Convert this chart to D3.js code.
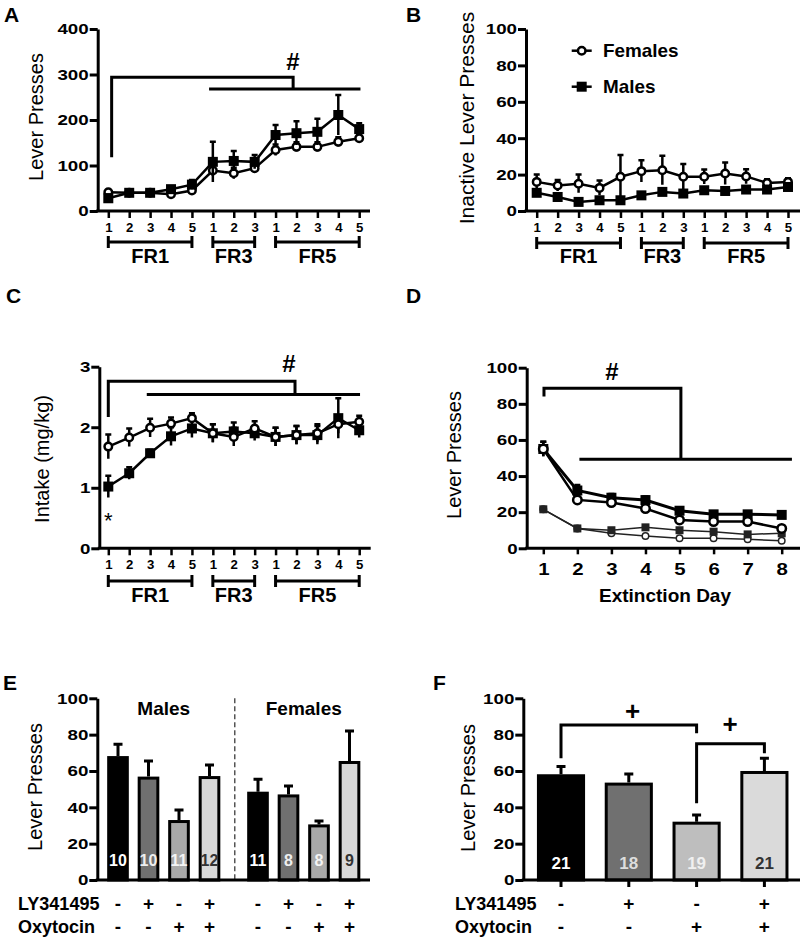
<!DOCTYPE html>
<html><head><meta charset="utf-8">
<script src="https://cdn.jsdelivr.net/npm/d3@7"></script>
<style>
body{margin:0;background:#fff}
svg{display:block}
</style></head><body>
<svg id="c" width="800" height="939"></svg>
<script>
// ---------------- DATA ----------------
const sessions = ["1","2","3","4","5","1","2","3","1","2","3","4","5"];
const phaseNames = ["FR1","FR3","FR5"];
const phaseFrom = [0,5,8];
const phaseTo = [4,7,12];

const activeFemales    = [41,40,40,37,45,89,83,94,134,141,141,152,160];
const activeFemalesErr = [5,4,4,5,8,12,12,10,12,10,10,10,8];
const activeMales      = [28,40,40,48,58,108,110,108,167,171,174,211,180];
const activeMalesErr   = [8,5,5,6,10,44,22,15,22,26,29,44,13];

const inactiveFemales    = [16,14,15,12.7,18.8,21.9,22.4,18.8,18.8,20.6,19,15.4,16];
const inactiveFemalesErr = [4,3,5,4,12,6,8,7,4,6,4,2,2];
const inactiveMales      = [10,7.7,5,5.9,5.9,8.6,10.5,9.6,11.4,11,11.8,11.8,13.2];
const inactiveMalesErr   = [2,2,1,1,1,1,2,1,1,1,1,1,1];

const intakeFemales    = [1.68,1.83,1.99,2.06,2.15,1.90,1.84,1.98,1.84,1.87,1.90,2.05,2.09];
const intakeFemalesErr = [0.2,0.15,0.15,0.1,0.08,0.15,0.15,0.12,0.15,0.15,0.15,0.15,0.1];
const intakeMales      = [1.02,1.24,1.57,1.85,1.98,1.9,1.93,1.9,1.84,1.87,1.87,2.15,1.95];
const intakeMalesErr   = [0.18,0.1,0.06,0.15,0.15,0.15,0.15,0.12,0.15,0.15,0.15,0.33,0.12];

const extDays = [1,2,3,4,5,6,7,8];
const extMalesActive      = [55,32,28,26.7,20.8,18.8,18.8,18.5];
const extMalesActiveErr   = [4,3,2,2,1,1,1,1];
const extFemalesActive    = [55,26.8,25.3,22,15.7,14.8,14.8,11];
const extFemalesActiveErr = [4,2,2,2,1,1,1,1];
const extMalesInactive    = [21.6,11,10,11.6,10,9.2,7.7,8.3];
const extFemalesInactive  = [21.6,11,8.3,6.8,5.5,5.5,5,4.2];

const treatments = ["Vehicle","LY341495","Oxytocin","LY341495+Oxytocin"];
const lySigns  = ["-","+","-","+"];
const oxySigns = ["-","-","+","+"];
const sexGroups = ["Males","Females"];
const reinstMales      = [68.2,56.9,33,57.2];
const reinstMalesErr   = [6.5,8.6,5.5,6.1];
const reinstMalesN     = [10,10,11,12];
const reinstFemales    = [48.6,47.1,30.6,65.5];
const reinstFemalesErr = [6.8,4.6,1.9,16.5];
const reinstFemalesN   = [11,8,8,9];
const reinstAll        = [58.2,53.6,32.1,60];
const reinstAllErr     = [4.2,4.7,3.7,7];
const reinstAllN       = [21,18,19,21];

const ticksA = [0,100,200,300,400];
const ticks100 = [0,20,40,60,80,100];
const ticksC = [0,1,2,3];

// ---------------- HELPERS ----------------
const FONT = '"Liberation Sans", Arial, Helvetica, sans-serif';
const svg = d3.select("#c");

function txt(g, x, y, s, o = {}) {
  let tr = `translate(${x},${y})`;
  if (o.rot) tr += ` rotate(${o.rot})`;
  if (o.sx) tr += ` scale(${o.sx},1)`;
  return g.append("text").attr("transform", tr)
    .attr("font-family", FONT).attr("font-size", o.size || 16)
    .attr("font-weight", o.weight || "normal")
    .attr("text-anchor", o.anchor || "start")
    .attr("fill", o.fill || "#000").text(s);
}

function yAxis(g, y, x0, ticks, fmt) {
  const ax = g.append("g").attr("transform", `translate(${x0},0)`)
    .call(d3.axisLeft(y).tickValues(ticks).tickSize(8).tickSizeOuter(0).tickPadding(1)
      .tickFormat(fmt || d3.format("d")));
  ax.select(".domain").attr("stroke", "#000").attr("stroke-width", 3);
  ax.selectAll(".tick line").attr("stroke", "#000").attr("stroke-width", 3);
  ax.selectAll(".tick text").attr("font-size", 15).attr("font-weight", "bold")
    .attr("font-family", FONT).attr("fill", "#000")
    .attr("x", -9 / 1.25).attr("transform", "scale(1.25,1)");
  return ax;
}

function xBase(g, x0, x1, yb) {
  g.append("line").attr("x1", x0 - 1.5).attr("x2", x1).attr("y1", yb).attr("y2", yb)
    .attr("stroke", "#000").attr("stroke-width", 3);
}

function xTicks(g, x, yb, vals, fmt, size, ty, sx, tick) {
  const ax = g.append("g").attr("transform", `translate(0,${yb})`)
    .call(d3.axisBottom(x).tickValues(vals).tickFormat(fmt).tickSize(tick));
  ax.select(".domain").remove();
  ax.selectAll(".tick line").attr("stroke", "#000").attr("stroke-width", 2.5);
  ax.selectAll(".tick text").attr("font-size", size).attr("font-weight", "bold")
    .attr("font-family", FONT).attr("fill", "#000")
    .attr("y", ty).attr("dy", null).attr("transform", `scale(${sx},1)`);
}

function phaseBrackets(g, x, by, ly) {
  phaseNames.forEach((nm, i) => {
    const xa = x(phaseFrom[i]), xb = x(phaseTo[i]);
    g.append("path").attr("d", `M${xa},${by-6}V${by+6}M${xa},${by}H${xb}M${xb},${by-6}V${by+6}`)
      .attr("fill", "none").attr("stroke", "#000").attr("stroke-width", 3);
    txt(g, (xa + xb) / 2, ly, nm, {size: 20, weight: "bold", anchor: "middle"});
  });
}

function series(g, x, y, xs, vals, errs, shape, o = {}) {
  const sw = o.sw || 2.5, col = o.col || "#000";
  if (errs) {
    xs.forEach((xv, i) => {
      const cx = x(xv), y1 = y(vals[i] - errs[i]), y2 = y(vals[i] + errs[i]);
      g.append("path").attr("d", `M${cx},${y1}V${y2}M${cx-3},${y2}H${cx+3}`)
        .attr("stroke", col).attr("stroke-width", 2.5).attr("fill", "none");
    });
  }
  g.append("path").datum(xs.map((xv, i) => [xv, vals[i]]))
    .attr("d", d3.line().x(d => x(d[0])).y(d => y(d[1])))
    .attr("fill", "none").attr("stroke", col).attr("stroke-width", sw);
  const s = o.ms || 10;
  xs.forEach((xv, i) => {
    if (shape === "square") {
      g.append("rect").attr("x", x(xv) - s/2).attr("y", y(vals[i]) - s/2)
        .attr("width", s).attr("height", s).attr("fill", col);
    } else {
      g.append("circle").attr("cx", x(xv)).attr("cy", y(vals[i])).attr("r", s/2 - sw/2)
        .attr("fill", "#fff").attr("stroke", col).attr("stroke-width", sw);
    }
  });
}

// ---------------- PANEL A ----------------
{
  const g = svg.append("g");
  const y = d3.scaleLinear().domain([0, 400]).range([211, 29]);
  const x = d3.scaleLinear().domain([0, 12]).range([108.3, 359.2]);
  const idx = d3.range(sessions.length);
  txt(g, 4, 22, "A", {size: 21, weight: "bold"});
  txt(g, 43, 117, "Lever Presses", {size: 20, rot: -90, anchor: "middle"});
  g.append("path").attr("d",
    `M${x(0.16)},${y(118)}V${y(294)}H${x(8.84)}V${y(268)}M${x(4.82)},${y(268)}H${x(12.06)}`)
    .attr("fill", "none").attr("stroke", "#000").attr("stroke-width", 3);
  txt(g, 293, 70, "#", {size: 24, weight: "bold", anchor: "middle"});
  series(g, x, y, idx, activeFemales, activeFemalesErr, "circle");
  series(g, x, y, idx, activeMales, activeMalesErr, "square");
  xBase(g, 97.7, 370, 211);
  xTicks(g, x, 211, idx, i => sessions[i], 12, 21, 1.1, 7);
  yAxis(g, y, 97.7, ticksA);
  phaseBrackets(g, x, 242, 263);
}

// ---------------- PANEL B ----------------
{
  const g = svg.append("g");
  const y = d3.scaleLinear().domain([0, 100]).range([211, 29]);
  const x = d3.scaleLinear().domain([0, 12]).range([536.7, 788]);
  const idx = d3.range(sessions.length);
  txt(g, 406, 22, "B", {size: 21, weight: "bold"});
  txt(g, 474, 118, "Inactive Lever Presses", {size: 21, rot: -90, anchor: "middle"});
  series(g, x, y, idx, inactiveFemales, inactiveFemalesErr, "circle");
  series(g, x, y, idx, inactiveMales, inactiveMalesErr, "square");
  xBase(g, 526, 800, 211);
  xTicks(g, x, 211, idx, i => sessions[i], 12, 21, 1.1, 7);
  yAxis(g, y, 526, ticks100);
  phaseBrackets(g, x, 243, 263);
  // legend
  const lg = g.append("g");
  const lx = d3.scaleLinear().domain([0, 1]).range([571.7, 591.7]);
  [["Females", "circle", 50.7], ["Males", "square", 86.7]].forEach(([nm, sh, ly]) => {
    lg.append("line").attr("x1", lx(0)).attr("x2", lx(1)).attr("y1", ly).attr("y2", ly)
      .attr("stroke", "#000").attr("stroke-width", 2.5);
    if (sh === "circle") lg.append("circle").attr("cx", lx(0.5)).attr("cy", ly).attr("r", 3.75)
      .attr("fill", "#fff").attr("stroke", "#000").attr("stroke-width", 2.5);
    else lg.append("rect").attr("x", lx(0.5) - 5).attr("y", ly - 5).attr("width", 10).attr("height", 10);
    txt(lg, 603, ly + 6.5, nm, {size: 18, weight: "bold", sx: 1.05});
  });
}

// ---------------- PANEL C ----------------
{
  const g = svg.append("g");
  const y = d3.scaleLinear().domain([0, 3]).range([548.3, 366.7]);
  const x = d3.scaleLinear().domain([0, 12]).range([108.3, 359.2]);
  const idx = d3.range(sessions.length);
  txt(g, 6, 303, "C", {size: 21, weight: "bold"});
  txt(g, 49, 459, "Intake (mg/kg)", {size: 20, rot: -90, anchor: "middle"});
  g.append("path").attr("d",
    `M${x(0)},${y(2.17)}V${y(2.76)}H${x(8.93)}V${y(2.54)}M${x(1.84)},${y(2.54)}H${x(12.04)}`)
    .attr("fill", "none").attr("stroke", "#000").attr("stroke-width", 3);
  txt(g, 289, 372, "#", {size: 24, weight: "bold", anchor: "middle"});
  series(g, x, y, idx, intakeMales, intakeMalesErr, "square");
  series(g, x, y, idx, intakeFemales, intakeFemalesErr, "circle");
  txt(g, x(0), 528, "*", {size: 22, anchor: "middle"});
  xBase(g, 99.3, 370.7, 548.3);
  xTicks(g, x, 548.3, idx, i => sessions[i], 12, 21, 1.1, 7);
  yAxis(g, y, 99.3, ticksC);
  phaseBrackets(g, x, 581, 602);
}

// ---------------- PANEL D ----------------
{
  const g = svg.append("g");
  const y = d3.scaleLinear().domain([0, 100]).range([548.3, 367.7]);
  const x = d3.scaleLinear().domain([1, 8]).range([543.3, 781.7]);
  txt(g, 406, 303, "D", {size: 21, weight: "bold"});
  txt(g, 461, 455, "Lever Presses", {size: 20, rot: -90, anchor: "middle"});
  g.append("path").attr("d",
    `M${x(1.02)},${y(84)}V${y(88.6)}H${x(5.04)}V${y(49.3)}M${x(2.06)},${y(49.3)}H${x(8.3)}`)
    .attr("fill", "none").attr("stroke", "#000").attr("stroke-width", 3);
  txt(g, 612, 380, "#", {size: 24, weight: "bold", anchor: "middle"});
  series(g, x, y, extDays, extFemalesInactive, null, "circle", {sw: 1.5, ms: 8, col: "#222"});
  series(g, x, y, extDays, extMalesInactive, null, "square", {sw: 1.5, ms: 8, col: "#222"});
  series(g, x, y, extDays, extMalesActive, extMalesActiveErr, "square", {sw: 3, ms: 10});
  series(g, x, y, extDays, extFemalesActive, extFemalesActiveErr, "circle", {sw: 2.5, ms: 11});
  xBase(g, 526.7, 800, 548.3);
  xTicks(g, x, 548.3, extDays, d3.format("d"), 17, 27, 1.2, 6);
  yAxis(g, y, 526.7, ticks100);
  txt(g, 665, 602, "Extinction Day", {size: 19, weight: "bold", anchor: "middle"});
}

// ---------------- BAR HELPERS ----------------
const barFillE = ["#000000", "#707070", "#a8a8a8", "#d8d8d8"];
const barFillF = ["#000000", "#707070", "#bebebe", "#dadada"];
const nColE = ["#ffffff", "#eeeeee", "#f4f4f4", "#333333"];
const nColF = ["#ffffff", "#dddddd", "#f0f0f0", "#333333"];

function bars(g, xb, y, vals, errs, ns, fills, ncols, nsize, ny) {
  const bw = xb.bandwidth();
  treatments.forEach((t, i) => {
    const x0 = xb(t), cx = x0 + bw / 2;
    g.append("path").attr("d", `M${cx},${y(vals[i])}V${y(vals[i] + errs[i])}M${cx-4.5},${y(vals[i] + errs[i])}H${cx+4.5}`)
      .attr("stroke", "#000").attr("stroke-width", 3).attr("fill", "none");
    g.append("rect").attr("x", x0 + 1.5).attr("y", y(vals[i]) + 1.5)
      .attr("width", bw - 3).attr("height", y(0) - y(vals[i]) - 1.5)
      .attr("fill", fills[i]).attr("stroke", "#000").attr("stroke-width", 3);
    txt(g, cx, ny, String(ns[i]), {size: nsize, weight: "bold", anchor: "middle", fill: ncols[i]});
  });
}

function signRows(g, centers, x0, yLy, yOx) {
  txt(g, x0, yLy, "LY341495", {size: 18, weight: "bold"});
  txt(g, x0, yOx, "Oxytocin", {size: 18, weight: "bold"});
  centers.forEach((c, i) => {
    txt(g, c, yLy, lySigns[i % 4], {size: 19, weight: "bold", anchor: "middle"});
    txt(g, c, yOx, oxySigns[i % 4], {size: 19, weight: "bold", anchor: "middle"});
  });
}

// ---------------- PANEL E ----------------
{
  const g = svg.append("g");
  const y = d3.scaleLinear().domain([0, 100]).range([880, 698.3]);
  const gx = d3.scaleBand().domain(sexGroups).range([102.75, 364.75]).paddingInner(18 / 140).paddingOuter(0);
  const inner = d3.scaleBand().domain(treatments).range([0, gx.bandwidth()]).paddingInner(0.29).paddingOuter(0.145);
  txt(g, 3, 690, "E", {size: 21, weight: "bold"});
  txt(g, 42, 787, "Lever Presses", {size: 20, rot: -90, anchor: "middle"});
  const divX = (gx("Males") + gx.bandwidth() + gx("Females")) / 2 + 1;
  g.append("line").attr("x1", divX).attr("x2", divX).attr("y1", y(100)).attr("y2", y(0))
    .attr("stroke", "#555").attr("stroke-width", 1.5).attr("stroke-dasharray", "5,3");
  const centers = [];
  [[reinstMales, reinstMalesErr, reinstMalesN], [reinstFemales, reinstFemalesErr, reinstFemalesN]].forEach((d, gi) => {
    const sg = g.append("g").attr("transform", `translate(${gx(sexGroups[gi])},0)`);
    bars(sg, inner, y, d[0], d[1], d[2], barFillE, nColE, 16, 866);
    treatments.forEach(t => centers.push(gx(sexGroups[gi]) + inner(t) + inner.bandwidth() / 2));
    txt(g, gx(sexGroups[gi]) + gx.bandwidth() / 2, 715, sexGroups[gi], {size: 19, weight: "bold", anchor: "middle"});
  });
  xBase(g, 97.3, 370, 880);
  yAxis(g, y, 97.3, ticks100);
  signRows(g, centers, 18, 910, 933);
}

// ---------------- PANEL F ----------------
{
  const g = svg.append("g");
  const y = d3.scaleLinear().domain([0, 100]).range([880, 698.3]);
  const xb = d3.scaleBand().domain(treatments).range([527.1, 798.3]).paddingInner(0.29).paddingOuter(0.145);
  const c = t => xb(t) + xb.bandwidth() / 2;
  txt(g, 433, 690, "F", {size: 21, weight: "bold"});
  txt(g, 475, 788, "Lever Presses", {size: 20, rot: -90, anchor: "middle"});
  const c0 = c(treatments[0]), c2 = c(treatments[2]), c3 = c(treatments[3]);
  g.append("path").attr("d", `M${c0},${y(67)}V${y(85.3)}H${c2}V${y(80.7)}`)
    .attr("fill", "none").attr("stroke", "#000").attr("stroke-width", 3);
  g.append("path").attr("d", `M${c2},${y(42.2)}V${y(75)}H${c3}V${y(69.7)}`)
    .attr("fill", "none").attr("stroke", "#000").attr("stroke-width", 3);
  txt(g, 632.5, 720, "+", {size: 26, weight: "bold", anchor: "middle"});
  txt(g, 730, 733, "+", {size: 26, weight: "bold", anchor: "middle"});
  bars(g, xb, y, reinstAll, reinstAllErr, reinstAllN, barFillF, nColF, 17, 869);
  xBase(g, 523.3, 800, 880);
  const ax = g.append("g").attr("transform", "translate(0,880)")
    .call(d3.axisBottom(xb).tickSize(7).tickFormat(""));
  ax.select(".domain").remove();
  ax.selectAll(".tick line").attr("stroke", "#000").attr("stroke-width", 3);
  yAxis(g, y, 523.3, ticks100);
  signRows(g, treatments.map(c), 455, 910, 933);
}
</script>
</body></html>
